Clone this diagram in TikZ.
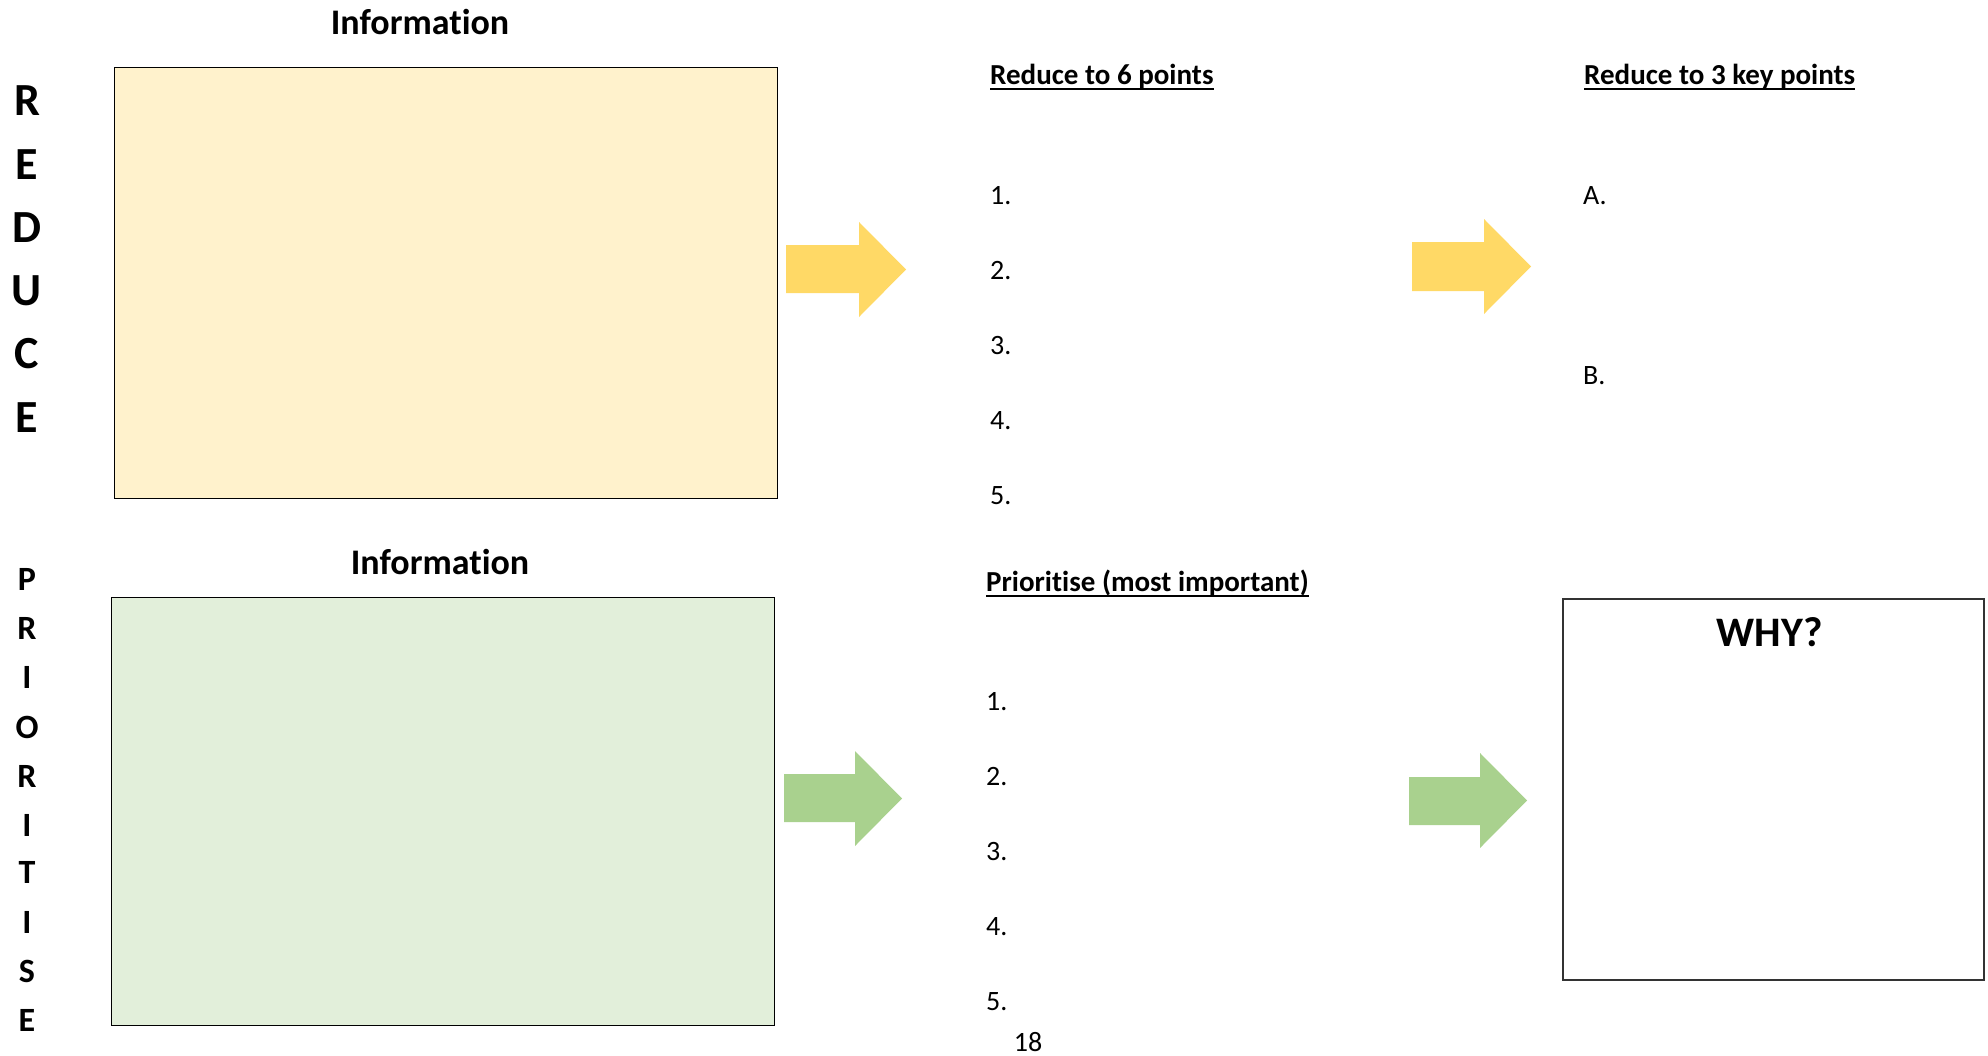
\documentclass[tikz,border=0pt]{standalone}
\usepackage{fontspec}
\setmainfont{Carlito}[Ligatures={NoCommon}]
\definecolor{yelArrow}{HTML}{FFD966}
\definecolor{yelFill}{HTML}{FFF2CC}
\definecolor{grnArrow}{HTML}{A9D18E}
\definecolor{grnFill}{HTML}{E2EFDA}
\begin{document}
\begin{tikzpicture}[x=1pt,y=-1pt,
  titletext/.style={font=\bfseries\fontsize{36}{40}\selectfont, inner sep=0pt, anchor=base},
  bigletter/.style={font=\bfseries\fontsize{46}{50}\selectfont, inner sep=0pt},
  smallletter/.style={font=\bfseries\fontsize{34}{38}\selectfont, inner sep=0pt},
  heading/.style={font=\bfseries\fontsize{29}{32}\selectfont, inner sep=0pt, anchor=base west},
  ulineStyle/.style={line width=2.5pt},
  item/.style={font=\fontsize{28}{32}\selectfont, inner sep=0pt, anchor=west},
  infobox/.style={draw=black, line width=1.2pt, inner sep=0pt, anchor=north west},
  yarrow/.style={fill=yelArrow},
  garrow/.style={fill=grnArrow}]
\useasboundingbox (0,0) rectangle (1988,1055);

% titles
\node[titletext] (t1) at (420,34) {Information};
\node[titletext] (t2) at (440,574) {Information};

% boxes
\node[infobox, fill=yelFill, minimum width=663pt, minimum height=431pt] (box1) at (114,67) {};
\node[infobox, fill=grnFill, minimum width=663pt, minimum height=428pt] (box2) at (111,597) {};
\node[draw=black!80, line width=1.5pt, inner sep=0pt, anchor=north west, minimum width=421pt, minimum height=381pt] (why) at (1562,598) {};
\node[font=\bfseries\fontsize{42}{46}\selectfont, inner sep=0pt, anchor=base] (whyt) at (1770,646) {WHY?};

% REDUCE
\foreach \l/\y [count=\i] in {R/101,E/165,D/228,U/291,C/354,E/418}
  \node[bigletter] (r\i) at (27,\y) {\l};
% PRIORITISE
\foreach \l/\y [count=\i] in {P/579,R/628,I/677,O/727,R/776,I/825,T/872,I/922,S/971,E/1020}
  \node[smallletter] (p\i) at (27,\y) {\l};

% arrows
\fill[yarrow] (786,245) -- (859,245) -- (859,222) -- (906,269.5) -- (859,317) -- (859,293) -- (786,293) -- cycle;
\fill[yarrow] (1412,242) -- (1484,242) -- (1484,219) -- (1531,266.5) -- (1484,314) -- (1484,291) -- (1412,291) -- cycle;
\fill[garrow] (784,774) -- (855,774) -- (855,751) -- (902,798.5) -- (855,846) -- (855,822) -- (784,822) -- cycle;
\fill[garrow] (1409,777) -- (1480,777) -- (1480,753) -- (1527,800.5) -- (1480,848) -- (1480,825) -- (1409,825) -- cycle;

% headings
\node[heading] (h1) at (990,84) {Reduce to 6 points};
\draw[ulineStyle] ([yshift=-5pt]h1.base west) -- ([yshift=-5pt]h1.base east);
\node[heading] (h2) at (1584,84) {Reduce to 3 key points};
\draw[ulineStyle] ([yshift=-5pt]h2.base west) -- ([yshift=-5pt]h2.base east);
\node[heading] (h3) at (986,591) {Prioritise (most important)};
\draw[ulineStyle] ([yshift=-5pt]h3.base west) -- ([yshift=-5pt]h3.base east);

% lists
\foreach \n/\y in {1/196,2/271,3/346,4/421,5/496}
  \node[item] (a\n) at (990,\y) {\n.};
\node[item] (kA) at (1583,196) {A.};
\node[item] (kB) at (1583,376) {B.};
\foreach \n/\y in {1/702,2/777,3/852,4/927,5/1002}
  \node[item] (b\n) at (986,\y) {\n.};

% page number
\node[font=\fontsize{28}{32}\selectfont, inner sep=0pt] (pg) at (1028,1042) {18};
\end{tikzpicture}
\end{document}
